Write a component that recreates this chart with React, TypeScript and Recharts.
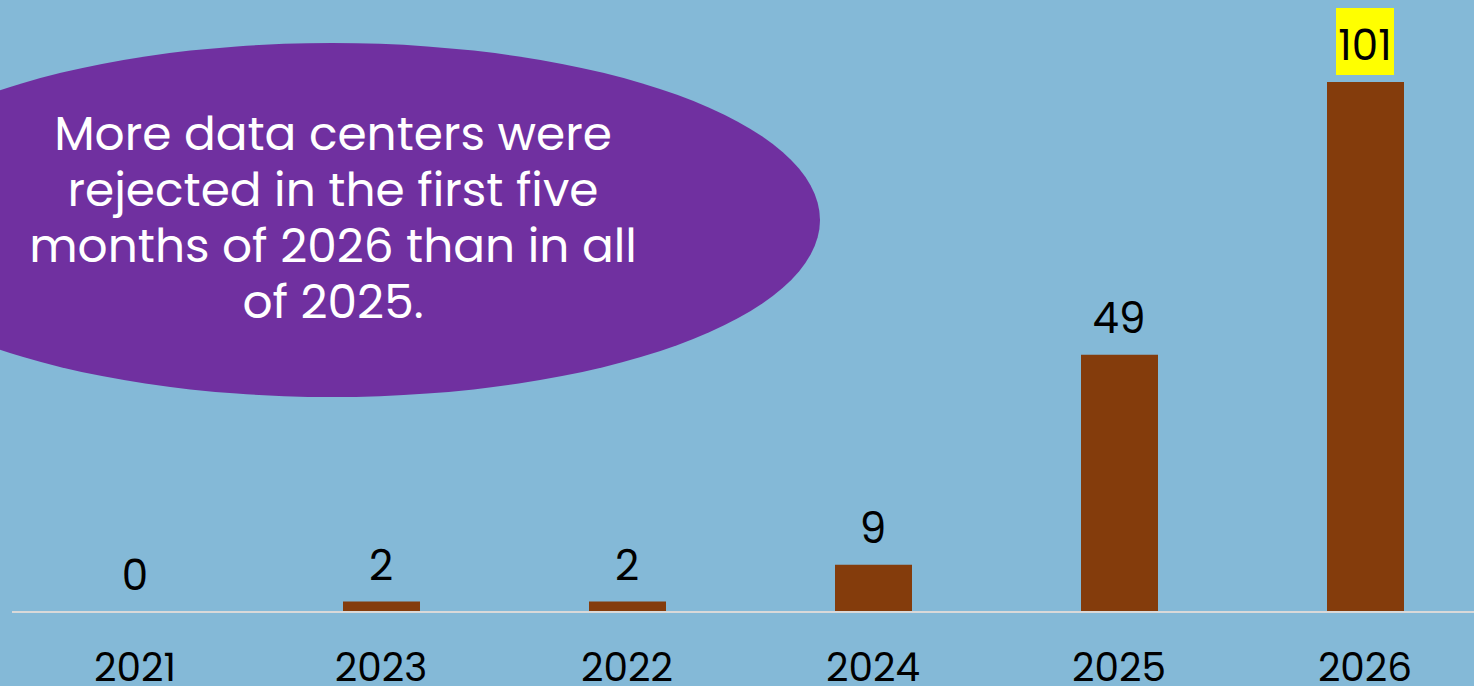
import React from 'react';
import { ComposedChart, Bar, Line, XAxis, YAxis, LabelList } from 'recharts';

const categories = ['2021', '2023', '2022', '2024', '2025', '2026'];
const rejected = [0, 2, 2, 9, 49, 101];
const highlightYear = '2026';
const headline = [
  'More data centers were',
  'rejected in the first five',
  'months of 2026 than in all',
  'of 2025.',
];

const data = categories.map((year, i) => ({ year, value: rejected[i] }));

const BG = '#84B9D7';
const BAR = '#843C0C';
const PURPLE = '#7030A0';
const FONT = "Poppins, Inter, sans-serif";

const ValueLabel = (props: any) => {
  const { x, y, value, index } = props;
  const cx = Number(x);
  const top = Number(y);
  const hl = categories[index] === highlightYear;
  return (
    <g>
      {hl && <rect x={cx - 29} y={top - 74} width={58} height={67} fill="#FFFF00" />}
      <text
        x={cx}
        y={top - 22}
        textAnchor="middle"
        fontFamily={FONT}
        fontSize={42}
        fill="#000"
      >
        {value}
      </text>
    </g>
  );
};

const YearTick = (props: any) => {
  const { x, payload } = props;
  return (
    <text
      x={x}
      y={612 + 69}
      textAnchor="middle"
      fontFamily={FONT}
      fontSize={39}
      fill="#000"
    >
      {payload.value}
    </text>
  );
};

export default function App() {
  return (
    <div
      style={{
        position: 'fixed',
        left: 0,
        top: 0,
        width: 1474,
        height: 686,
        overflow: 'hidden',
        background: BG,
      }}
    >
      <div style={{ position: 'absolute', left: 0, top: 0 }}>
        <ComposedChart
          width={1488}
          height={686}
          data={data}
          margin={{ top: 82, right: 0, bottom: 0, left: 12 }}
          barCategoryGap={0}
        >
          <XAxis
            dataKey="year"
            height={74}
            tickLine={false}
            axisLine={{ stroke: '#D9D9D9', strokeWidth: 2 }}
            tick={<YearTick />}
            interval={0}
          />
          <YAxis hide domain={[0, 101]} width={0} />
          <Bar dataKey="value" fill={BAR} barSize={77} isAnimationActive={false} />
          <Line
            dataKey="value"
            stroke="none"
            dot={false}
            activeDot={false}
            isAnimationActive={false}
          >
            <LabelList dataKey="value" content={<ValueLabel />} />
          </Line>
        </ComposedChart>
      </div>
      <svg
        width={1474}
        height={686}
        style={{ position: 'absolute', left: 0, top: 0, pointerEvents: 'none' }}
      >
        <ellipse cx={332} cy={220} rx={488} ry={177} fill={PURPLE} />
        {headline.map((line, i) => (
          <text
            key={i}
            x={333}
            y={150 + i * 56}
            textAnchor="middle"
            fontFamily={FONT}
            fontSize={47}
            fill="#FFFFFF"
          >
            {line}
          </text>
        ))}
      </svg>
    </div>
  );
}
